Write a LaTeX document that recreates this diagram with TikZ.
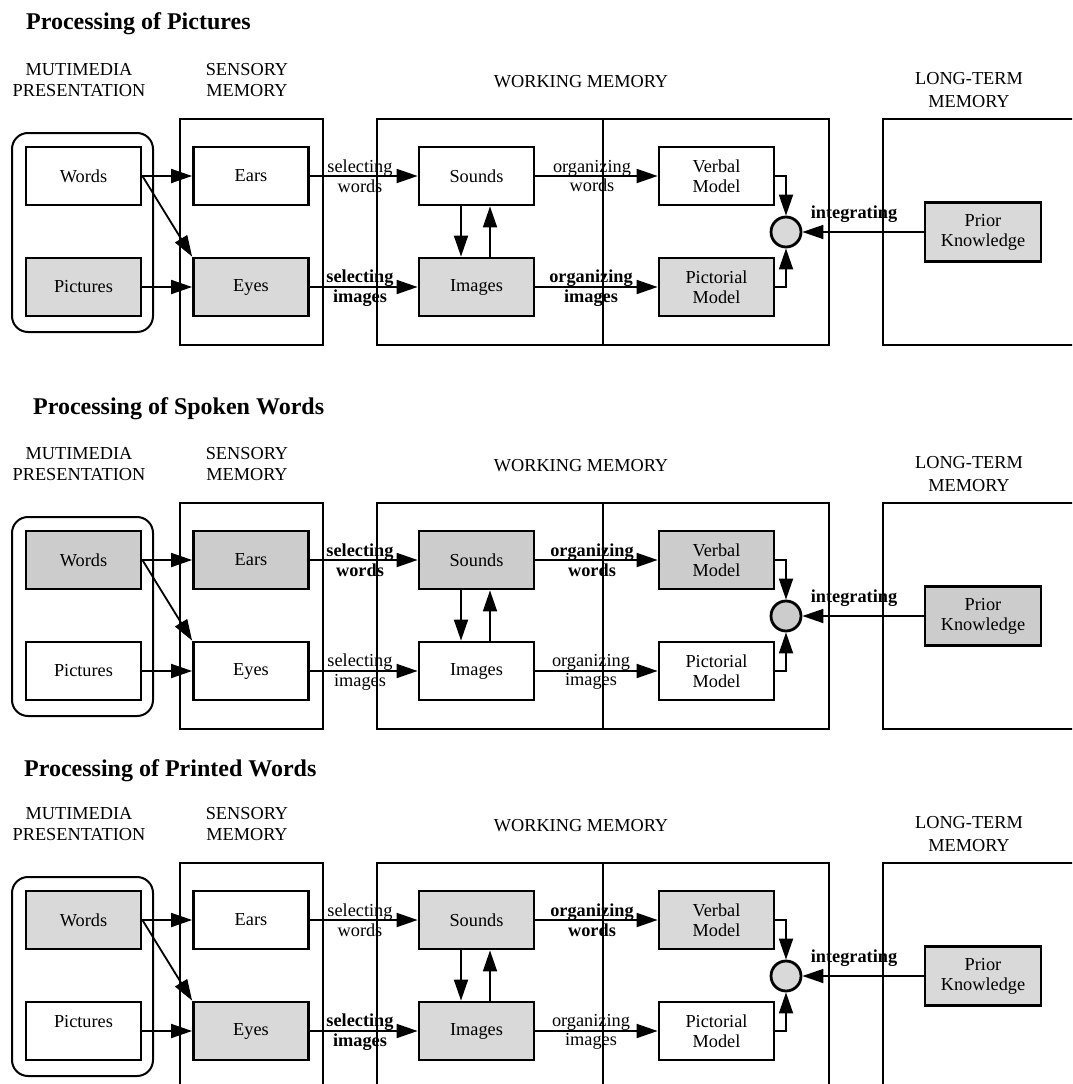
\documentclass[tikz,border=0pt]{standalone}
\usepackage{fontspec}
\setmainfont{Liberation Serif}
\usetikzlibrary{arrows.meta}
\definecolor{graya}{RGB}{217,217,217}
\definecolor{grayb}{RGB}{204,204,204}
\colorlet{panelgray}{graya}

\newcommand\mypanel[5]{%
\begin{scope}[yshift=-#1pt]
\node[ttl,anchor=base west] (#2ttl) at (#4,#5) {#3};
\node[hdr] (#2hmp) at (79,80.5) {MUTIMEDIA\\PRESENTATION};
\node[hdr] (#2hsm) at (247,80.5) {SENSORY\\MEMORY};
\node[hdr] (#2hwm) at (581,82) {WORKING MEMORY};
\node[hdr,font=\fontsize{18.3}{22.5}\selectfont] (#2hlt) at (969,90) {LONG-TERM\\MEMORY};
\draw[line width=2pt, rounded corners=16pt] (12,133) rectangle (153,332);
\draw[outer] (180,119) rectangle (323,345);
\draw[outer] (377,119) rectangle (829,345);
\draw[outer] (603,119) -- (603,345);
\draw[outer] (883,119) rectangle (1095,345);
\node[box,fWords] (#2words) at (83.5,176) {Words};
\node[box,fPictures,picText] (#2pics) at (83.5,287) {Pictures};
\node[box,fEars] (#2ears) at (251,176) {Ears};
\node[box,fEyes] (#2eyes) at (251,287) {Eyes};
\node[box,fSounds] (#2sounds) at (476.5,176) {Sounds};
\node[box,fImages] (#2images) at (476.5,287) {Images};
\node[box,fVerbal] (#2verbal) at (716.5,176) {Verbal\\Model};
\node[box,fPictorial] (#2pict) at (716.5,287) {Pictorial\\Model};
\node[box,fill=panelgray,minimum width=116pt,minimum height=59pt] (#2pk) at (983,232) {Prior\\Knowledge};
\node[circle,draw,line width=2.8pt,fill=panelgray,minimum size=30pt,inner sep=0pt] (#2circ) at (786,232) {};
\draw[conn] (#2words.east) -- (#2ears.west);
\draw[conn] (#2words.east) -- (#2eyes.north west);
\draw[conn] (#2pics.east) -- (#2eyes.west);
\draw[conn] (#2ears.east) -- (#2sounds.west);
\draw[conn] (#2eyes.east) -- (#2images.west);
\draw[conn] ([xshift=-15.5pt]#2sounds.south) -- ([xshift=-15.5pt]#2images.north);
\draw[conn] ([xshift=13.5pt]#2images.north) -- ([xshift=13.5pt]#2sounds.south);
\draw[conn] (#2sounds.east) -- (#2verbal.west);
\draw[conn] (#2images.east) -- (#2pict.west);
\draw[conn] (#2verbal.east) -| (#2circ.north);
\draw[conn] (#2pict.east) -| (#2circ.south);
\draw[conn] (#2pk.west) -- (#2circ.east);
\node[tSelW] (#2lsw) at (360,176) {selecting\\words};
\node[tSelI] (#2lsi) at (360,288) {selecting\\images};
\node[tOrgW] (#2low) at (592,176) {organizing\\words};
\node[tOrgI] (#2loi) at (591,288) {organizing\\images};
\node[lblbold,anchor=base] (#2lint) at (854,218) {integrating};
\end{scope}}

\begin{document}
\begin{tikzpicture}[x=1pt,y=-1pt,
  ttl/.style={font=\fontsize{24}{28}\selectfont\bfseries, inner sep=0pt},
  hdr/.style={align=center, inner sep=0pt, font=\fontsize{18.3}{21}\selectfont},
  box/.style={draw, line width=2.8pt, minimum width=115pt, minimum height=58pt, inner sep=0pt, align=center, font=\fontsize{18.3}{20}\selectfont},
  outer/.style={draw, line width=2.8pt},
  conn/.style={line width=1.8pt, -{Triangle[length=21pt,width=14pt]}},
  lbl/.style={align=center, inner sep=0pt, font=\fontsize{18.3}{19.5}\selectfont},
  lblbold/.style={align=center, inner sep=0pt, font=\fontsize{18.3}{19.5}\selectfont\bfseries},
  gf/.style={fill=panelgray},
  wf/.style={fill=white},
  picText/.style={}
]
\useasboundingbox (0,0) rectangle (1072,1084);
\fill[white] (0,0) rectangle (1072,1084);
\clip (0,0) rectangle (1072,1084);

% Panel 1: Pictures
\colorlet{panelgray}{graya}
\tikzset{fWords/.style={wf}, fPictures/.style={gf}, fEars/.style={wf}, fEyes/.style={gf},
  fSounds/.style={wf}, fImages/.style={gf}, fVerbal/.style={wf}, fPictorial/.style={gf},
  tSelW/.style={lbl}, tSelI/.style={lblbold}, tOrgW/.style={lbl}, tOrgI/.style={lblbold},
  picText/.style={}}
\mypanel{0}{a}{Processing of Pictures}{26}{29}

% Panel 2: Spoken words
\colorlet{panelgray}{grayb}
\tikzset{fWords/.style={gf}, fPictures/.style={wf}, fEars/.style={gf}, fEyes/.style={wf},
  fSounds/.style={gf}, fImages/.style={wf}, fVerbal/.style={gf}, fPictorial/.style={wf},
  tSelW/.style={lblbold}, tSelI/.style={lbl}, tOrgW/.style={lblbold}, tOrgI/.style={lbl},
  picText/.style={}}
\mypanel{384}{b}{Processing of Spoken Words}{33}{30}

% Panel 3: Printed words
\colorlet{panelgray}{graya}
\tikzset{fWords/.style={gf}, fPictures/.style={wf}, fEars/.style={wf}, fEyes/.style={gf},
  fSounds/.style={gf}, fImages/.style={gf}, fVerbal/.style={gf}, fPictorial/.style={wf},
  tSelW/.style={lbl}, tSelI/.style={lblbold}, tOrgW/.style={lblbold}, tOrgI/.style={lbl},
  picText/.style={text depth=18.5pt}}
\mypanel{744}{c}{Processing of Printed Words}{24}{32}
\end{tikzpicture}
\end{document}
